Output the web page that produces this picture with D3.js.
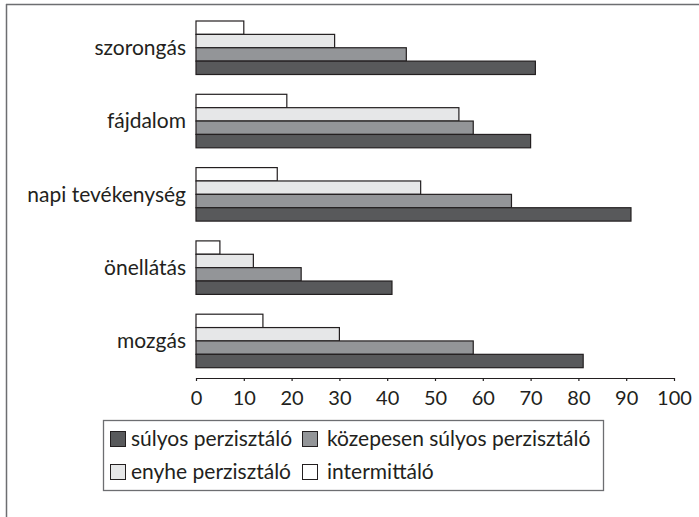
<!DOCTYPE html>
<html>
<head>
<meta charset="utf-8">
<script src="https://cdn.jsdelivr.net/npm/d3@7"></script>
<style>
  html, body { margin: 0; padding: 0; background: #fff; }
  svg { display: block; }
  text { font-family: Lato, "Open Sans", sans-serif; fill: #231f20; }
</style>
</head>
<body>
<svg id="chart" width="699" height="517"></svg>
<script>
// Categories, top to bottom
const categories = ["szorongás", "fájdalom", "napi tevékenység", "önellátás", "mozgás"];

// Series values (%), one entry per category
const sulyos = [71, 70, 91, 41, 81];
const kozepesen = [44, 58, 66, 22, 58];
const enyhe = [29, 55, 47, 12, 30];
const intermittalo = [10, 19, 17, 5, 14];

// Series names and fills
const seriesNames = ["súlyos perzisztáló", "közepesen súlyos perzisztáló", "enyhe perzisztáló", "intermittáló"];
const seriesFills = ["#58595b", "#939598", "#e6e7e8", "#ffffff"];
const seriesValues = [sulyos, kozepesen, enyhe, intermittalo];

// Axis tick labels
const xTicks = [0, 10, 20, 30, 40, 50, 60, 70, 80, 90, 100];

const FONT = 21;

const svg = d3.select("#chart");

// Outer frame lines (top and left)
svg.append("line").attr("x1", 6).attr("x2", 699).attr("y1", 4.5).attr("y2", 4.5)
  .attr("stroke", "#6d6e71").attr("stroke-width", 1.5);
svg.append("line").attr("x1", 6.5).attr("x2", 6.5).attr("y1", 4).attr("y2", 517)
  .attr("stroke", "#6d6e71").attr("stroke-width", 1.5);

const x = d3.scaleLinear().domain([0, 100]).range([196, 674]);

const y = d3.scaleBand().domain(categories).range([21, 367.7])
  .paddingInner(0.27).paddingOuter(0);

// Within each group the bars run intermittáló (top) to súlyos (bottom)
const barOrder = [3, 2, 1, 0];
const yInner = d3.scaleBand().domain(barOrder).range([0, y.bandwidth()]);

const groups = svg.append("g").selectAll("g")
  .data(categories)
  .join("g")
  .attr("transform", d => `translate(0,${y(d)})`);

groups.selectAll("rect")
  .data((cat, i) => barOrder.map(s => ({ s, v: seriesValues[s][i] })))
  .join("rect")
  .attr("x", x(0))
  .attr("y", d => yInner(d.s))
  .attr("width", d => x(d.v) - x(0))
  .attr("height", yInner.bandwidth())
  .attr("fill", d => seriesFills[d.s])
  .attr("stroke", "#231f20")
  .attr("stroke-width", 1.2);

// Category labels
svg.append("g").selectAll("text")
  .data(categories)
  .join("text")
  .attr("x", 186)
  .attr("y", d => y(d) + y.bandwidth() / 2)
  .attr("dy", "0.35em")
  .attr("text-anchor", "end")
  .attr("font-size", FONT)
  .text(d => d);

// X axis
const axis = svg.append("g")
  .attr("transform", "translate(0,378)")
  .call(d3.axisBottom(x).tickValues(xTicks).tickSize(3).tickSizeOuter(0).tickPadding(10));
axis.select(".domain").attr("stroke", "#231f20").attr("stroke-width", 1.2);
axis.selectAll(".tick line").attr("stroke", "#231f20").attr("stroke-width", 1.2);
axis.selectAll(".tick text")
  .attr("font-size", 20)
  .attr("font-family", "Lato, 'Open Sans', sans-serif")
  .attr("fill", "#231f20");

// Legend
const legend = svg.append("g");
legend.append("rect")
  .attr("x", 103.5).attr("y", 420.5).attr("width", 500).attr("height", 70)
  .attr("fill", "#fff").attr("stroke", "#6d6e71").attr("stroke-width", 1.3);

const legendPos = [
  { sx: 110, tx: 131, cy: 439 },
  { sx: 302, tx: 327, cy: 439 },
  { sx: 110, tx: 131, cy: 472 },
  { sx: 302, tx: 327, cy: 472 }
];

const items = legend.selectAll("g.item")
  .data(seriesNames.map((name, i) => ({ name, fill: seriesFills[i], p: legendPos[i] })))
  .join("g").attr("class", "item");

items.append("rect")
  .attr("x", d => d.p.sx + 0.5)
  .attr("y", d => d.p.cy - 7.5)
  .attr("width", 15).attr("height", 15)
  .attr("fill", d => d.fill)
  .attr("stroke", "#231f20").attr("stroke-width", 1);

items.append("text")
  .attr("x", d => d.p.tx)
  .attr("y", d => d.p.cy)
  .attr("dy", "0.35em")
  .attr("font-size", FONT)
  .text(d => d.name);
</script>
</body>
</html>
